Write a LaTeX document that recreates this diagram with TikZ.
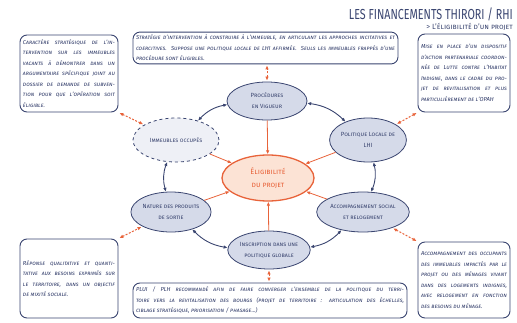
\documentclass[tikz,border=0pt]{standalone}
\usepackage{fontspec}
\setmainfont{Fira Sans}
\newfontfamily\titlefont[FakeStretch=0.74]{Fira Sans}
\usetikzlibrary{shapes.geometric}
\usetikzlibrary{arrows.meta}

\definecolor{navy}{HTML}{3A4570}
\definecolor{ellfill}{HTML}{D5DAE9}
\definecolor{occfill}{HTML}{EEF0F6}
\definecolor{rouge}{HTML}{E8633A}
\definecolor{peche}{HTML}{FCE3D5}
\definecolor{boxtext}{HTML}{2F3A68}

\tikzset{
  bloc/.style={shape=rectangle,draw=navy,line width=0.9pt,rounded corners=7pt,fill=white,align=justify,
    font=\fontsize{5.8}{10.5}\selectfont\itshape\scshape,text=boxtext,inner xsep=3pt,inner ysep=3pt},
  bulle/.style={shape=ellipse,draw=navy,line width=0.8pt,fill=ellfill,align=center,
    font=\fontsize{6}{11}\selectfont\scshape,text=navy,inner sep=0pt},
  lien/.style={<->,draw=navy,line width=0.9pt},
  vers/.style={->,draw=rouge,line width=0.8pt},
  renvoi/.style={<->,draw=rouge,line width=1pt,dash pattern=on 2pt off 1.5pt,shorten <=1pt,shorten >=1pt},
}

\begin{document}
\begin{tikzpicture}[x=1pt,y=1pt,>/.tip={Latex[length=4pt,width=3.5pt]}]
	\useasboundingbox (0,0) rectangle (517,322);
	% title
	\node (titre) [anchor=base east,inner sep=0pt,font=\titlefont\fontsize{14.5}{14.5}\selectfont,text=navy] at (513,302) {LES FINANCEMENTS THIRORI / RHI};
	\node (sous) [anchor=base east,inner sep=0pt,font=\fontsize{7.5}{7.5}\selectfont\scshape,text=navy] at (513,292) {> L’éligibilité d’un projet};
	% ellipses
	\node (elig) [bulle,draw=rouge,fill=peche,text=rouge,line width=1.3pt,minimum width=92pt,minimum height=46pt,font=\fontsize{7.5}{13}\selectfont\scshape] at (268,144) {Éligibilité\\du projet};
	\node (proc) [bulle,minimum width=80pt,minimum height=38pt] at (267,221) {Procédures\\en Vigueur};
	\node (occup) [bulle,dashed,fill=occfill,minimum width=86pt,minimum height=44pt] at (176,182) {Immeubles occupés};
	\node (lhi) [bulle,minimum width=72pt,minimum height=44pt] at (368,182) {Politique Locale de\\LHI};
	\node (nature) [bulle,minimum width=78pt,minimum height=40pt] at (171,110) {Nature des produits\\de sortie};
	\node (accomp) [bulle,minimum width=80pt,minimum height=40pt] at (363,110) {Accompagnement social\\et relogement};
	\node (inscr) [bulle,minimum width=78pt,minimum height=38pt] at (269,72) {Inscription dans une\\politique globale};
	% boxes
	\node (boxTL) [bloc,text width=92pt,minimum height=77pt] at (69,248.5) {Caractère stratégique de l’in-\linebreak tervention sur les immeubles\linebreak vacants à démontrer dans un\linebreak argumentaire spécifique joint au\linebreak dossier de demande de subven-\linebreak tion pour que l’opération soit\linebreak éligible.};
	\node (boxTC) [bloc,text width=259pt,minimum height=30pt] at (265.5,274) {Stratégie d’intervention à construire à l’immeuble, en articulant les approches incitatives et\linebreak coercitives. Suppose une politique locale de LHI affirmée. Seuls les immeubles frappés d’une\linebreak procédure sont éligibles.};
	\node (boxTR) [bloc,text width=86pt,minimum height=78pt] at (464,249) {Mise en place d’un dispositif\linebreak d’action partenariale coordon-\linebreak née de Lutte contre l’Habitat\linebreak Indigne, dans le cadre du pro-\linebreak jet de revitalisation et plus\linebreak particulièrement de l’OPAH};
	\node (boxBL) [bloc,text width=92pt,minimum height=79pt] at (69,43.5) {Réponse qualitative et quanti-\linebreak tative aux besoins exprimés sur\linebreak le territoire, dans un objectif\linebreak de mixité sociale.};
	\node (boxBC) [bloc,text width=268pt,minimum height=35pt] at (270,21.5) {PLUI / PLH recommandé afin de faire converger l’ensemble de la politique du terri-\linebreak toire vers la revitalisation des bourgs (projet de territoire : articulation des échelles,\linebreak ciblage stratégique, priorisation / phasage...)};
	\node (boxBR) [bloc,text width=86pt,minimum height=76pt] at (464,42) {Accompagnement des occupants\linebreak des immeubles impactés par le\linebreak projet ou des ménages vivant\linebreak dans des logements indignes,\linebreak avec relogement en fonction\linebreak des besoins du ménage.};
	% towards the centre
	\draw[vers] (proc) -- (elig);
	\draw[vers] (occup) -- (elig);
	\draw[vers] (lhi) -- (elig);
	\draw[vers] (nature) -- (elig);
	\draw[vers] (accomp) -- (elig);
	\draw[vers] (inscr) -- (elig);
	% ring
	\draw[lien] (proc) to[bend left=18] (lhi);
	\draw[lien] (lhi) to[bend left=18] (accomp);
	\draw[lien] (accomp) to[bend left=18] (inscr);
	\draw[lien] (inscr) to[bend left=18] (nature);
	\draw[lien] (nature) to[bend left=18] (occup);
	\draw[lien] (occup) to[bend left=18] (proc);
	% boxes to ellipses
	\draw[renvoi] (boxTL.south east) -- (occup);
	\draw[renvoi] (boxTR.south west) -- (lhi);
	\draw[renvoi] (boxBL.north east) -- (nature);
	\draw[renvoi] (boxBR.north west) -- (accomp);
	\draw[renvoi] (proc) -- (proc |- boxTC.south);
	\draw[renvoi] (inscr) -- (inscr |- boxBC.north);
\end{tikzpicture}
\end{document}
